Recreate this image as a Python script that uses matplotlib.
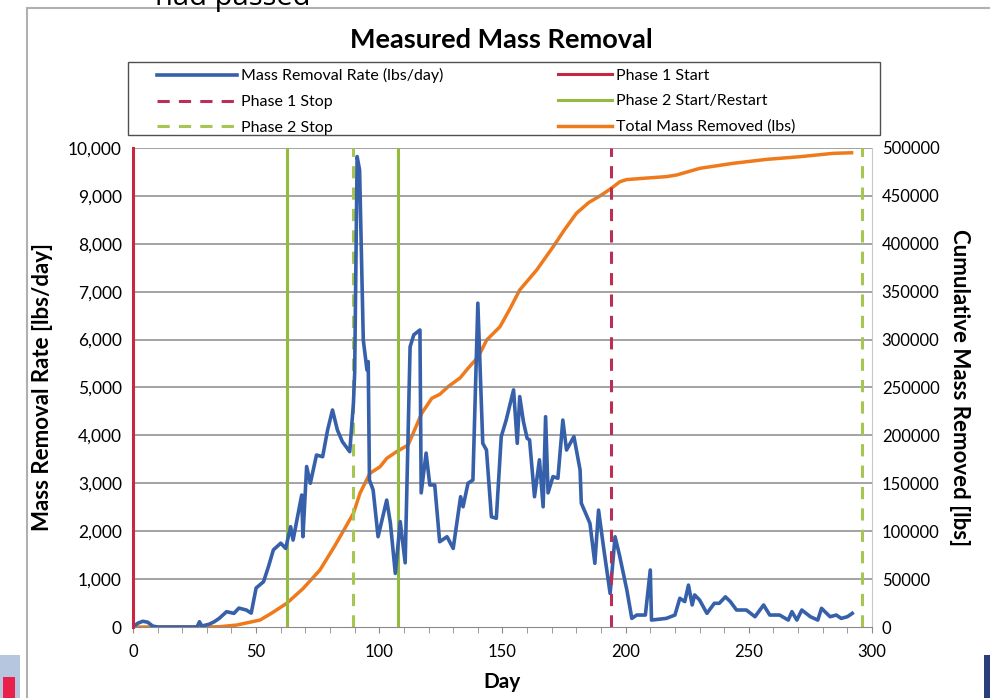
import matplotlib
matplotlib.use("Agg")
import matplotlib.pyplot as plt
from matplotlib.patches import Rectangle
from matplotlib.ticker import FuncFormatter, MultipleLocator

plt.rcParams["font.family"] = ["Lato", "DejaVu Sans"]

# Mass removal rate (lbs/day)
rate_day = [0, 2, 4, 6, 8, 10, 26, 27, 28, 31, 33, 35, 38, 41, 43, 46, 48, 50,
            53, 55, 57, 60, 62, 64, 65, 68.5, 69, 70.5, 72, 74.5, 77, 79, 81,
            83, 85, 88, 89.5, 90, 91, 92, 93.5, 95, 95.5, 96, 97.5, 99.5, 103,
            104.5, 106.5, 108.5, 110.5, 112.5, 114, 116.5, 117, 119, 120.5,
            122.5, 124.5, 127.5, 130, 133, 134, 136, 138, 140, 142, 143.5,
            145.5, 147.5, 149.5, 151.5, 154.5, 156, 157, 158.5, 160, 161, 163,
            165, 166.5, 167.5, 168.5, 170.5, 172.5, 174.5, 176, 179, 181.5,
            182, 185.5, 187.5, 189, 191, 193.7, 195.7, 197.5, 200.5, 202.5,
            204.5, 208, 210, 210.5, 216.5, 220, 222, 224, 225.5, 227, 228, 230,
            233, 236, 238, 240.5, 242.5, 245, 249, 252.5, 256, 258.5, 262.5,
            266, 267.5, 269.5, 271.5, 275, 278, 279.5, 283, 285.5, 287.5, 290,
            292]
rate_val = [0, 80, 120, 100, 20, 0, 0, 110, 20, 60, 110, 180, 320, 285, 395,
            355, 290, 815, 945, 1260, 1610, 1750, 1640, 2095, 1815, 2755, 1885,
            3350, 3000, 3590, 3555, 4110, 4530, 4110, 3870, 3660, 4670, 5300,
            9820, 9540, 5990, 5365, 5540, 3070, 2860, 1885, 2650, 2170, 1120,
            2200, 1340, 5850, 6100, 6200, 2800, 3630, 2965, 2965, 1780, 1885,
            1640, 2720, 2510, 3000, 3070, 6760, 3835, 3695, 2300, 2270, 3975,
            4320, 4950, 3835, 4810, 4290, 3940, 3905, 2720, 3490, 2510, 4390,
            2800, 3140, 3105, 4320, 3695, 3975, 3280, 2585, 2165, 1330, 2440,
            1675, 700, 1885, 1500, 770, 180, 250, 250, 1190, 145, 180, 250, 600,
            530, 875, 460, 670, 565, 285, 495, 495, 630, 530, 355, 355, 215,
            460, 250, 250, 145, 320, 145, 355, 215, 145, 390, 215, 250, 180,
            215, 285]

# Total mass removed (lbs)
total_day = [0, 30, 35, 42, 51.6, 56, 62.4, 69, 75.9, 82, 89.5, 92.2, 96.2,
             100.3, 103, 107, 111.7, 117.2, 121.3, 124.6, 128, 132.8, 136,
             140.2, 143.6, 149, 153, 157, 163.9, 170.6, 175, 180, 185, 189.6,
             193.7, 197.7, 200.4, 208, 216.6, 220.7, 230.2, 243.7, 257.2, 270.8,
             284.3, 291.7]
total_val = [0, 0, 300, 2000, 7300, 14000, 24700, 40000, 59500, 85000, 118700,
             139900, 160400, 167300, 176000, 183000, 190000, 223000, 238700,
             243000, 251000, 260000, 270000, 282100, 299600, 313500, 332000,
             351800, 372700, 397000, 414000, 431800, 443000, 450000, 457000,
             464800, 467000, 468500, 470100, 471800, 478800, 484000, 488100,
             490900, 494400, 495000]

phase1_start = [0]
phase1_stop = [194]
phase2_start = [62.5, 107.7]
phase2_stop = [89.3, 296]

blue = "#3760aa"
orange = "#ee7a1c"
red = "#c8283f"
red_dash = "#b92f55"
green = "#94bb40"
green_dash = "#a6c651"

fig = plt.figure(figsize=(9.9, 6.98), dpi=100)
ax = fig.add_axes([0.1343, 0.1017, 0.7465, 0.6863])
ax2 = ax.twinx()

ax.set_xlim(0, 300)
ax.set_ylim(0, 10000)
ax2.set_ylim(0, 500000)

for y in range(1000, 10001, 1000):
    ax.axhline(y, color="#8a8a8a", lw=1.1, zorder=1)

dash = (0, (4, 3))
h_rate, = ax.plot(rate_day, rate_val, color=blue, lw=2.6, zorder=3,
                  label="Mass Removal Rate (lbs/day)")
h_p1s = ax.axvline(phase1_start[0], color=red, lw=2.2, zorder=4, clip_on=False,
                   label="Phase 1 Start")
h_p1e = ax.axvline(phase1_stop[0], color=red_dash, lw=2.2, ls=dash, zorder=4,
                   label="Phase 1 Stop")
for d in phase2_start:
    h_p2s = ax.axvline(d, color=green, lw=2.2, zorder=2, label="Phase 2 Start/Restart")
for d in phase2_stop:
    h_p2e = ax.axvline(d, color=green_dash, lw=2.2, ls=dash, zorder=2,
                       label="Phase 2 Stop")
h_tot, = ax2.plot(total_day, total_val, color=orange, lw=2.5,
                  label="Total Mass Removed (lbs)")

ax.set_zorder(ax2.get_zorder() + 1)
ax.patch.set_visible(False)

ax.xaxis.set_major_locator(MultipleLocator(50))
ax.xaxis.set_minor_locator(MultipleLocator(10))
ax.yaxis.set_major_locator(MultipleLocator(1000))
ax.yaxis.set_major_formatter(FuncFormatter(lambda v, p: f"{int(v):,}"))
ax2.yaxis.set_major_locator(MultipleLocator(50000))
ax2.yaxis.set_major_formatter(FuncFormatter(lambda v, p: f"{int(v)}"))

ax.tick_params(axis="x", which="both", length=4, color="#8a8a8a", labelsize=12, pad=8)
ax.tick_params(axis="y", length=0, labelsize=12.5, pad=8)
ax2.tick_params(axis="y", length=0, labelsize=12, pad=7)

for a in (ax, ax2):
    for s in a.spines.values():
        s.set_visible(False)
ax.spines["bottom"].set_visible(True)
ax.spines["bottom"].set_color("#8a8a8a")
ax2.spines["right"].set_visible(True)
ax2.spines["right"].set_color("#c8c8c8")

ax.set_xlabel("Day", fontsize=15, fontweight="bold", labelpad=9)
ax.set_ylabel("Mass Removal Rate [lbs/day]", fontsize=16, fontweight="bold", labelpad=11)
ax2.set_ylabel("Cumulative Mass Removed [lbs]", fontsize=16, fontweight="bold",
               rotation=270, labelpad=22)

# legend: two columns with different handle lengths, one shared frame
leg_kw = dict(loc="upper left", fontsize=11.5, frameon=False, borderpad=0,
              borderaxespad=0, labelspacing=0.72, handletextpad=0.25)
left = [h_rate, h_p1e, h_p2e]
right = [h_p1s, h_p2s, h_tot]
leg1 = fig.legend(left, [h.get_label() for h in left], handlelength=5.0,
                  bbox_to_anchor=(0.1586, 0.902), **leg_kw)
leg2 = fig.legend(right, [h.get_label() for h in right], handlelength=3.4,
                  bbox_to_anchor=(0.5636, 0.902), **leg_kw)
fig.add_artist(Rectangle((0.1293, 0.8066), 0.7596, 0.1046, transform=fig.transFigure,
                         fill=False, edgecolor="#505050", lw=1.0))

fig.text(0.506, 0.943, "Measured Mass Removal", ha="center", va="center",
         fontsize=19.5, fontweight="bold")

# slide debris around the pasted chart
fig.text(0.157, 0.993, "had passed", ha="left", va="baseline", fontsize=21,
         family=["Open Sans", "DejaVu Sans"])
fig.add_artist(Rectangle((0.027, -0.01), 1.0, 0.999, transform=fig.transFigure,
                         facecolor="white", edgecolor="#b0b0b0", lw=1.5, zorder=-5))
fig.add_artist(Rectangle((0, 0), 0.02, 0.062, transform=fig.transFigure,
                         facecolor="#b6c6de", edgecolor="none"))
fig.add_artist(Rectangle((0.003, 0.0), 0.012, 0.03, transform=fig.transFigure,
                         facecolor="#e8204a", edgecolor="none"))
fig.add_artist(Rectangle((0.994, 0), 0.006, 0.062, transform=fig.transFigure,
                         facecolor="#2a3f7a", edgecolor="none"))

fig.savefig("out.png", dpi=100)
